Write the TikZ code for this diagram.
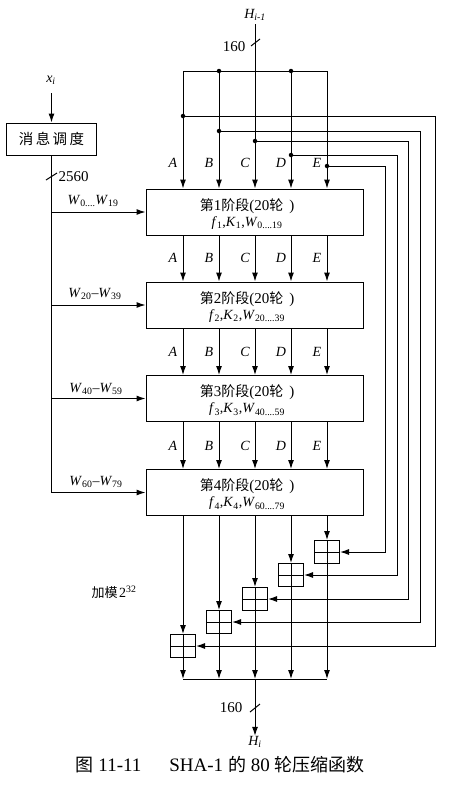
\documentclass[tikz,border=0pt]{standalone}
\usepackage{fontspec}
\setmainfont{Liberation Serif}
\newfontfamily\cjk{Noto Sans CJK SC}
\usetikzlibrary{arrows.meta}
\newcommand{\vit}[1]{\textit{#1}}
\newcommand{\cj}[1]{{\cjk\fontsize{13}{13}\selectfont #1}}
\newcommand{\cjs}[1]{{\cjk\fontsize{14}{14}\selectfont #1}}
\newcommand{\stl}[1]{{\fontsize{15}{15}\selectfont\cjs{第}#1\cjs{阶段}(20\cjs{轮}\hspace{6pt})}}
\begin{document}
\begin{tikzpicture}[x=1pt,y=-1pt,line width=1pt,
  ar/.style={-{Latex[length=9pt,width=6pt]}},
  stagebox/.style={draw,minimum width=217pt,minimum height=46pt,inner sep=0pt},
  addbox/.style={draw,minimum width=25pt,minimum height=23pt,inner sep=0pt},
  lab/.style={font=\fontsize{14}{14}\selectfont\itshape,inner sep=0pt},
  txt/.style={font=\fontsize{14}{16}\selectfont,inner sep=0pt,align=center},
  num/.style={font=\fontsize{15}{15}\selectfont,inner sep=0pt},
  dot/.style={circle,fill,inner sep=0pt,minimum size=4.5pt}]
\useasboundingbox[fill=white] (0,0) rectangle (450,787);

% top input
\node[lab] (Hin) at (255,15) {H\textsubscript{\itshape i-1}};
\coordinate (busC) at (255,71);
\draw (Hin.south) ++(0,3) -- (busC);
\draw (251,46) -- (260,39);
\node[num] (n160a) at (234,47) {160};
\coordinate (busL) at (183,71);
\coordinate (busR) at (327,71);
\draw (busL) -- (busR);
\node[dot] (dotB) at (219,71) {};
\node[dot] (dotD) at (291,71) {};

% stage boxes
\node[stagebox] (s1) at (254.5,212) {};
\node[stagebox] (s2) at (254.5,305) {};
\node[stagebox] (s3) at (254.5,398.5) {};
\node[stagebox] (s4) at (254.5,492.5) {};
\node[txt] (s1t) at (247,214) {\stl{1}\\[0pt] \vit{f}\textsubscript{1},\vit{K}\textsubscript{1},\vit{W}\textsubscript{0....19}};
\node[txt] (s2t) at (247,307) {\stl{2}\\[0pt] \vit{f}\textsubscript{2},\vit{K}\textsubscript{2},\vit{W}\textsubscript{20....39}};
\node[txt] (s3t) at (247,400.5) {\stl{3}\\[0pt] \vit{f}\textsubscript{3},\vit{K}\textsubscript{3},\vit{W}\textsubscript{40....59}};
\node[txt] (s4t) at (247,494.5) {\stl{4}\\[0pt] \vit{f}\textsubscript{4},\vit{K}\textsubscript{4},\vit{W}\textsubscript{60....79}};

% columns
\foreach \n/\x in {A/183,B/219,C/255,D/291,E/327}{
  \coordinate (t\n) at (\x,71);
  \draw[ar] (t\n) -- (t\n |- s1.north);
  \draw[ar] (t\n |- s1.south) -- (t\n |- s2.north);
  \draw[ar] (t\n |- s2.south) -- (t\n |- s3.north);
  \draw[ar] (t\n |- s3.south) -- (t\n |- s4.north);
  \node[lab] (la\n) at (\x-10,163) {\n};
  \node[lab] (lb\n) at (\x-10,258) {\n};
  \node[lab] (lc\n) at (\x-10,352) {\n};
  \node[lab] (ld\n) at (\x-10,446) {\n};
}

% feed-forward and adders
\foreach \n/\x/\ty/\rx/\ay in {A/183/116/435/646,B/219/131/420/622,C/255/141/408/599,D/291/155/397/575,E/327/166/385/552}{
  \node[addbox] (add\n) at (\x,\ay) {};
  \draw (add\n.north) -- (add\n.south) (add\n.west) -- (add\n.east);
  \coordinate (f\n) at (\x,\ty);
  \coordinate (r\n) at (\rx,\ty);
  \node[dot] (dd\n) at (f\n) {};
  \draw[ar] (f\n) -- (r\n) |- (add\n.east);
  \draw[ar] (add\n.north |- s4.south) -- (add\n.north);
  \coordinate (bb\n) at (\x,679);
  \draw[ar] (add\n.south) -- (bb\n);
}
\draw (bbA) -- (bbE);

% output
\node[lab] (Hout) at (255,742) {H\textsubscript{\itshape i}};
\draw[ar] (bbC) -- (Hout.north);
\draw (250,712) -- (260,704);
\node[num] (n160b) at (231,708) {160};

% message schedule
\node[lab] (xi) at (51,80) {x\textsubscript{\itshape i}};
\node[draw,minimum width=90pt,minimum height=32pt,inner sep=0pt,font=\cjk\fontsize{14.5}{15}\selectfont] (ms) at (51.5,139) {消\,息\,调\,度};
\coordinate (msin) at (51.5,93);
\draw[ar] (msin) -- (ms.north);
\coordinate (wl) at (ms.south);
\draw (ms.south) -- (wl |- s4.west);
\draw[ar] (wl |- s4.west) -- (s4.west);
\draw[ar] (wl |- s1.west) -- (s1.west);
\draw[ar] (wl |- s2.west) -- (s2.west);
\draw[ar] (wl |- s3.west) -- (s3.west);
\draw (46,180) -- (57,173);
\node[num,anchor=west] (n2560) at (58,177) {2560};
\node[txt] (w1) at (93,201) {\vit{W}\textsubscript{0....}\vit{W}\textsubscript{19}};
\node[txt] (w2) at (95,294) {\vit{W}\textsubscript{20}--\vit{W}\textsubscript{39}};
\node[txt] (w3) at (96,389) {\vit{W}\textsubscript{40}--\vit{W}\textsubscript{59}};
\node[txt] (w4) at (96,482) {\vit{W}\textsubscript{60}--\vit{W}\textsubscript{79}};

% labels
\node[inner sep=0pt] (mod) at (114,592) {\cj{加模}\,{\fontsize{14}{14}\selectfont 2\textsuperscript{32}}};
\node[font=\fontsize{19}{19}\selectfont,inner sep=0pt] (cap) at (220,765) {{\cjk\fontsize{18}{18}\selectfont 图}\hspace{5pt}11-11\hspace{28pt}SHA-1 {\cjk\fontsize{18}{18}\selectfont 的} 80 {\cjk\fontsize{18}{18}\selectfont 轮压缩函数}};
\end{tikzpicture}
\end{document}
